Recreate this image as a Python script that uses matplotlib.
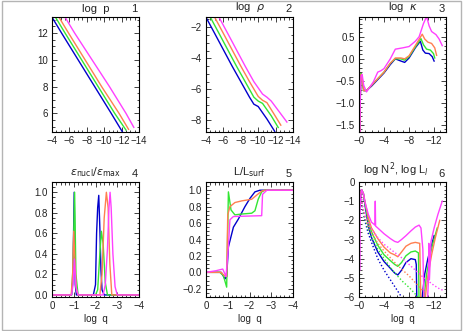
import numpy as np
import matplotlib
matplotlib.use('Agg')
import matplotlib.pyplot as plt
from matplotlib.ticker import AutoMinorLocator, FormatStrFormatter
from matplotlib.patches import Rectangle

plt.rcParams['font.family'] = ['Liberation Sans', 'DejaVu Sans']
plt.rcParams['mathtext.fontset'] = 'dejavusans'

# model colours (same order in every panel)
colors = ['#0000cc', '#33e633', '#ff7f50', '#ff40ff']

# 1. log p
p_x = [[-3.8, -5.1, -7.0, -8.9, -10.8, -12.1],
       [-4.2, -5.5, -7.4, -9.3, -11.2, -12.5],
       [-4.6, -5.9, -7.8, -9.7, -11.7, -12.8],
       [-5.3, -6.6, -8.6, -10.6, -12.5, -13.4]]
p_y = [[13.4, 12.0, 10.0, 8.0, 6.0, 4.6],
       [13.4, 12.0, 10.0, 8.0, 6.0, 4.75],
       [13.4, 12.0, 10.0, 8.0, 6.0, 4.8],
       [13.4, 12.0, 10.0, 8.0, 6.0, 4.95]]

# 2. log rho
rho_x = [[-3.8, -5, -6, -7, -8, -9, -9.5, -10.0, -11, -11.9],
         [-4.3, -5.5, -6.5, -7.5, -8.5, -9.5, -10.0, -10.5, -11.5, -12.3],
         [-4.8, -6, -7, -8, -9, -10, -10.5, -11, -12, -12.6],
         [-5.3, -6.5, -7.5, -8.5, -9.5, -10.5, -11, -11.5, -12.5, -13.3]]
rho_y = [[-1.15, -2.4, -3.45, -4.5, -5.5, -6.5, -6.95, -7.1, -7.9, -8.7],
         [-1.15, -2.4, -3.45, -4.5, -5.5, -6.5, -6.75, -6.9, -7.7, -8.45],
         [-1.15, -2.4, -3.45, -4.5, -5.5, -6.45, -6.7, -6.85, -7.75, -8.3],
         [-1.15, -2.4, -3.45, -4.5, -5.5, -6.3, -6.5, -6.75, -7.5, -8.1]]

# 3. log kappa
kap_x = [[-0.15, -0.2, -0.32, -0.45, -0.75, -1.2, -2, -3, -4, -5, -5.8, -6.7, -7.3, -8, -9, -9.8,
          -10.2, -10.6, -11.2, -11.7, -12.0],
         [-0.15, -0.2, -0.32, -0.45, -0.75, -1.2, -2, -3, -4, -5, -5.8, -6.7, -7.3, -8, -9, -9.9,
          -10.3, -10.8, -11.4, -11.9, -12.1],
         [-0.15, -0.2, -0.32, -0.45, -0.75, -1.2, -2, -3, -4, -5, -5.8, -6.7, -7.3, -8, -9, -10.1,
          -10.5, -11.0, -11.6, -12.1, -12.4],
         [-0.15, -0.2, -0.3, -0.5, -0.75, -1.2, -2.3, -3.0, -3.5, -4.0, -5.0, -5.8, -7.0, -8.0,
          -9.0, -9.6, -10.3, -10.8, -11.2, -11.6, -12.3, -12.8, -13.3]]
kap_y = [[-1.7, -0.9, -0.35, -0.4, -0.72, -0.72, -0.62, -0.47, -0.32, -0.13, 0.0, -0.05,
          -0.08, 0.02, 0.25, 0.40, 0.2, 0.13, 0.12, 0.05, -0.05],
         [-1.7, -0.9, -0.33, -0.38, -0.72, -0.72, -0.6, -0.45, -0.3, -0.1, 0.0, 0.0,
          -0.03, 0.05, 0.27, 0.46, 0.32, 0.22, 0.2, 0.12, 0.02],
         [-1.7, -0.9, -0.35, -0.38, -0.72, -0.72, -0.6, -0.45, -0.3, -0.1, 0.02, 0.02,
          0.0, 0.07, 0.3, 0.56, 0.45, 0.38, 0.35, 0.25, 0.08],
         [-1.7, -1.0, -0.4, -0.35, -0.6, -0.75, -0.52, -0.3, -0.27, -0.22, 0.0, 0.22,
          0.25, 0.28, 0.4, 0.5, 0.8, 0.96, 0.75, 0.62, 0.55, 0.45, 0.3]]

# 4. eps_nucl / eps_max
eps_x = [[0, -0.9, -0.96, -1.02, -1.07, -1.12, -1.9, -2.0, -2.05, -2.1, -2.15, -2.2, -2.25, -2.3, -2.4, -4],
         [0, -0.9, -0.97, -1.04, -1.1, -1.2, -2.0, -2.1, -2.2, -2.27, -2.35, -2.45, -2.55, -4],
         [0, -0.88, -0.95, -1.0, -1.05, -1.12, -1.2, -2.2, -2.3, -2.4, -2.5, -2.58, -2.66, -2.75, -4],
         [0, -0.9, -0.97, -1.03, -1.1, -1.2, -2.35, -2.45, -2.55, -2.62, -2.67, -2.72, -2.8, -2.9, -3.0, -4]]
eps_y = [[0, 0, 0.15, 1.0, 0.1, 0, 0, 0.1, 0.6, 0.85, 0.97, 0.65, 0.25, 0.05, 0, 0],
         [0, 0, 0.3, 1.0, 0.2, 0, 0, 0.05, 0.4, 0.62, 0.5, 0.12, 0, 0],
         [0, 0, 0.2, 0.62, 0.35, 0.05, 0, 0, 0.2, 0.75, 1.0, 0.85, 0.3, 0, 0],
         [0, 0, 0.1, 0.35, 0.08, 0, 0, 0.1, 0.45, 0.85, 1.0, 0.85, 0.4, 0.08, 0, 0]]

# 5. L / L_surf
lum_x = [[0, -0.7, -0.87, -0.95, -1.03, -1.26, -1.49, -1.79, -2.02, -2.25, -2.48, -4],
         [0, -0.64, -0.8, -0.95, -1.03, -1.15, -1.33, -1.64, -2.1, -2.25, -2.4, -2.56, -2.71, -4],
         [0, -0.7, -0.8, -0.95, -1.0, -1.1, -1.33, -1.64, -2.1, -2.33, -2.56, -2.7, -4],
         [0, -0.46, -0.77, -0.92, -1.03, -1.1, -1.26, -2.56, -2.6, -2.8, -4]]
lum_y = [[0, 0, -0.08, -0.05, 0.31, 0.55, 0.65, 0.8, 0.9, 0.98, 1.0, 1.0],
         [0, 0, -0.04, -0.18, 0.98, 0.76, 0.7, 0.71, 0.72, 0.75, 0.89, 0.98, 1.0, 1.0],
         [0, 0, -0.03, -0.05, 0.7, 0.8, 0.85, 0.87, 0.89, 0.94, 0.99, 1.0, 1.0],
         [0, 0.02, 0.04, -0.05, 0.31, 0.64, 0.68, 0.69, 0.95, 1.0, 1.0]]

# 6. log N^2 (solid) and log L_l (dotted)
n2_x = [[-0.03, -0.15, -0.4, -0.7, -1.0, -1.5, -2.0, -3.0, -4.0, -5.0, -5.7, -6.2, -6.8, -7.5, -8.3, -9.0,
         -9.15, -9.25, -10.0, -10.1, -10.5, -11.0, -11.5, -12.0],
        [-0.03, -0.15, -0.4, -0.7, -1.0, -1.5, -2.0, -3.0, -4.0, -5.0, -5.7, -6.2, -6.8, -7.5, -8.3, -9.0,
         -9.5, -9.6, -10.3, -10.4, -10.8, -11.3, -11.8, -12.5],
        [-0.03, -0.15, -0.4, -0.7, -1.0, -1.5, -2.0, -3.0, -4.0, -5.0, -5.7, -6.2, -6.8, -7.5, -8.3, -9.0,
         -9.7, -9.9, -10.5, -10.6, -11.0, -11.6, -12.2, -12.9],
        [-0.14, -0.18, -0.25, -0.4, -0.7, -1.0, -1.5, -2.0, -2.55, -2.6, -2.65, -3.0, -4.0, -5.0, -5.7, -6.2,
         -6.8, -7.5, -8.3, -9.0, -9.6, -9.9, -10.2, -10.4, -10.9, -11.1, -11.15, -11.25, -11.5, -12.0,
         -12.6, -13.3]]
n2_y = [[-1.5, -0.8, -0.4, -0.6, -1.3, -2.3, -2.9, -3.65, -4.15, -4.5, -4.75, -4.85, -4.6, -4.2, -4.0, -4.05,
         -4.3, -6.5, -6.5, -6.0, -4.8, -4.0, -3.4, -2.8],
        [-1.5, -0.8, -0.4, -0.6, -1.2, -2.1, -2.6, -3.3, -3.8, -4.1, -4.3, -4.4, -4.2, -3.85, -3.65, -3.6,
         -3.7, -6.5, -6.5, -6.0, -4.8, -3.9, -3.2, -2.4],
        [-1.5, -0.8, -0.4, -0.6, -1.1, -1.9, -2.4, -2.95, -3.4, -3.7, -3.8, -3.9, -3.65, -3.35, -3.2, -3.15,
         -3.2, -6.5, -6.5, -6.0, -4.9, -3.8, -2.9, -2.0],
        [-4.6, -1.5, -0.8, -0.4, -0.6, -1.1, -1.7, -2.1, -2.25, -1.0, -2.3, -2.4, -2.7, -2.95, -3.1, -3.15,
         -3.0, -2.8, -2.55, -2.35, -2.25, -2.4, -3.5, -6.5, -6.5, -5.1, -3.2, -5.1, -3.1, -2.4,
         -1.7, -1.0]]
lamb_x = [[-0.3, -0.6, -1, -1.5, -2, -3, -4, -5, -6, -6.8, -7.2],
          [-0.3, -0.6, -1, -1.5, -2, -3, -4, -5, -6, -7, -8, -9, -9.5],
          [-0.3, -0.6, -1, -1.5, -2, -3, -4, -5, -6, -7, -8, -9, -10, -10.5],
          [-0.3, -0.6, -1, -1.5, -2, -3, -4, -5, -6, -7, -8, -9, -10, -11, -12, -13, -13.5]]
lamb_y = [[-0.7, -1.5, -2.1, -2.7, -3.15, -4.0, -4.6, -5.1, -5.6, -6.0, -6.2],
          [-0.7, -1.4, -1.95, -2.5, -2.9, -3.5, -4.0, -4.45, -4.85, -5.2, -5.5, -5.85, -6.05],
          [-0.7, -1.35, -1.85, -2.3, -2.65, -3.2, -3.6, -3.95, -4.3, -4.6, -4.9, -5.25, -5.6, -5.75],
          [-0.7, -1.3, -1.75, -2.15, -2.45, -2.9, -3.25, -3.5, -3.75, -4.0, -4.3, -4.6, -4.9, -5.15,
           -5.4, -5.6, -5.65]]

ticks_lr = [-4, -6, -8, -10, -12, -14]
labels_lr = ['−4', '−6', '−8', '−10', '−12', '−14']
ticks_q = [0, -4, -8, -12]
labels_q = ['−0', '−4', '−8', '−12']
ticks_c = [0, -1, -2, -3, -4]
labels_c = ['0', '−1', '−2', '−3', '−4']

fig = plt.figure(figsize=(4.63, 3.31), dpi=100)
fig.patches.append(Rectangle((2 / 463, 1 / 331), 459 / 463, 329 / 331, transform=fig.transFigure,
                             fill=False, edgecolor='#b4b4b4', lw=1.0))

lefts = [52 / 463, 206 / 463, 359 / 463]
bottoms = [1 - 132 / 331, 1 - 297 / 331]
w, h = 87 / 463, 115 / 331


def Panel(col, row, xlim, ylim, xt, xl, yt, yfmt, title, num, xmin, ymin, tpos=0.5):
    ax = fig.add_axes([lefts[col], bottoms[row], w, h])
    ax.set_xlim(xlim)
    ax.set_ylim(ylim)
    ax.set_xticks(xt)
    ax.set_xticklabels(xl)
    ax.set_yticks(yt)
    ax.yaxis.set_major_formatter(FormatStrFormatter(yfmt))
    ax.xaxis.set_minor_locator(AutoMinorLocator(xmin))
    ax.yaxis.set_minor_locator(AutoMinorLocator(ymin))
    ax.tick_params(which='both', direction='in', top=True, right=True, labelsize=7,
                   colors='#222222', width=0.6, pad=3)
    ax.tick_params(which='major', length=3.5)
    ax.tick_params(which='minor', length=1.8)
    for s in ax.spines.values():
        s.set_linewidth(0.8)
    ax.text(tpos, 1.03, title, transform=ax.transAxes, ha='center', va='bottom', fontsize=8, color='#222222')
    ax.text(0.95, 1.03, num, transform=ax.transAxes, ha='center', va='bottom', fontsize=8, color='#222222')
    if row == 1:
        ax.set_xlabel('log  q', fontsize=7, labelpad=2, color='#222222')
    return ax


ax1 = Panel(0, 0, (-4, -14), (4.6, 13.2), ticks_lr, labels_lr, [6, 8, 10, 12], '%d', 'log  p', '1', 4, 4)
ax2 = Panel(1, 0, (-4, -14), (-8.74, -1.34), ticks_lr, labels_lr, [-8, -6, -4, -2], '%d',
            r'log  $\rho$', '2', 4, 4)
ax3 = Panel(2, 0, (0, -13.9), (-1.66, 0.95), ticks_q, labels_q, [-1.5, -1.0, -0.5, 0.0, 0.5], '%.1f',
            r'log  $\kappa$', '3', 4, 5)
ax4 = Panel(0, 1, (0, -4), (-0.02, 1.1), ticks_c, labels_c, [0, 0.2, 0.4, 0.6, 0.8, 1.0], '%.1f',
            r'$\varepsilon_{\rm nucl}/\varepsilon_{\rm max}$', '4', 5, 4)
ax5 = Panel(1, 1, (0, -4), (-0.3, 1.1), ticks_c, labels_c, [-0.2, 0, 0.2, 0.4, 0.6, 0.8, 1.0], '%.1f',
            r'L/L$_{\rm surf}$', '5', 5, 4)
ax6 = Panel(2, 1, (0, -13.9), (-6, 0), ticks_q, labels_q, [-6, -5, -4, -3, -2, -1, 0], '%d',
            r'log N$^2$, log L$_l$', '6', 4, 5, tpos=0.42)

for i in range(4):
    c = colors[i]
    ax1.plot(p_x[i], p_y[i], color=c, lw=1.0)
    ax2.plot(rho_x[i], rho_y[i], color=c, lw=1.0)
    ax3.plot(kap_x[i], kap_y[i], color=c, lw=1.0)
    ax4.plot(eps_x[i], eps_y[i], color=c, lw=1.0)
    ax5.plot(lum_x[i], lum_y[i], color=c, lw=1.0)
    ax6.plot(n2_x[i], n2_y[i], color=c, lw=1.0)
    ax6.plot(lamb_x[i], lamb_y[i], color=c, lw=1.0, ls=(0, (1, 1.5)))

# the y labels of IDL use a plain hyphen minus
for ax in [ax1, ax2, ax3, ax4, ax5, ax6]:
    ax.set_yticklabels([t.get_text().replace('-', '−') for t in ax.get_yticklabels()])

fig.savefig('out.png', dpi=100)
